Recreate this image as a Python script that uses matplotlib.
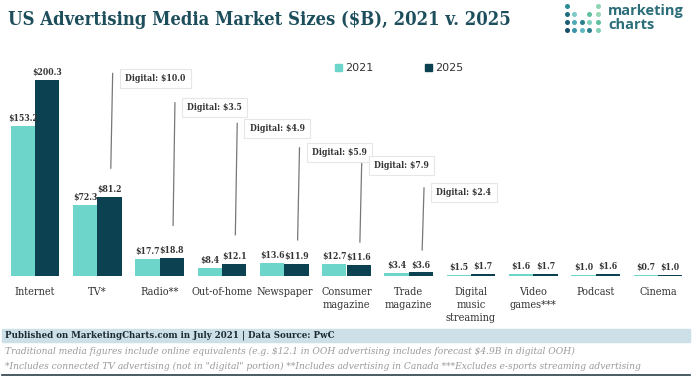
import numpy as np
import matplotlib.pyplot as plt
from matplotlib.patches import Rectangle

categories = ['Internet', 'TV*', 'Radio**', 'Out-of-home', 'Newspaper',
              'Consumer\nmagazine', 'Trade\nmagazine', 'Digital\nmusic\nstreaming',
              'Video\ngames***', 'Podcast', 'Cinema']
v2021 = [153.2, 72.3, 17.7, 8.4, 13.6, 12.7, 3.4, 1.5, 1.6, 1.0, 0.7]
v2025 = [200.3, 81.2, 18.8, 12.1, 11.9, 11.6, 3.6, 1.7, 1.7, 1.6, 1.0]

# digital portion callouts (category index, value)
digital_idx = [1, 2, 3, 4, 5, 6]
digital_val = [10.0, 3.5, 4.9, 5.9, 7.9, 2.4]
# callout line top / gap above bar (data units), layout only
callout_top = [207, 177, 156, 131, 118, 90]
callout_gap = [29, 33, 30, 25, 23, 23]

c2021 = '#6dd5c9'
c2025 = '#0b4150'
teal = '#1d4e5c'
serif = dict(family='DejaVu Serif', fontstretch='condensed')

fig = plt.figure(figsize=(6.96, 3.79), dpi=100)
ax = fig.add_axes([4/696, 1-276/379, 685/696, 0.568])

x = np.arange(len(categories))
w = 0.39
ax.bar(x - w/2, v2021, w, color=c2021)
ax.bar(x + w/2, v2025, w, color=c2025)

lab = dict(fontsize=6.2, fontweight='bold', color='#333333', **serif)
for i in range(len(categories)):
    ax.text(x[i] - w/2, v2021[i] + 3, '\\$%.1f' % v2021[i], ha='center', va='bottom', **lab)
    ax.text(x[i] + w/2, v2025[i] + 3, '\\$%.1f' % v2025[i], ha='center', va='bottom', **lab)

for k, i in enumerate(digital_idx):
    lx = x[i] + w/2 + 0.05
    y0 = v2025[i] + callout_gap[k]
    y1 = callout_top[k]
    ax.plot([lx - 0.03, lx], [y0, y1], color='#777777', lw=0.9)
    ax.text(lx + 0.2, y1 - 5, 'Digital: \\$%.1f' % digital_val[k], ha='left', va='center',
            bbox=dict(boxstyle='square,pad=0.6', fc='white', ec='#e6e6e6', lw=0.8), **lab)

ax.set_xlim(-0.5, len(categories) - 0.5)
ax.set_ylim(0, 220)
ax.set_xticks(x)
ax.set_xticklabels(categories, fontsize=7.8, color='#333333', linespacing=1.35, **serif)
ax.tick_params(axis='x', length=0, pad=8)
ax.set_yticks([])
for s in ax.spines.values():
    s.set_visible(False)

# overlay in pixel units for title, legend, logo and footer
ov = fig.add_axes([0, 0, 1, 1], facecolor='none')
ov.set_xlim(0, 696)
ov.set_ylim(379, 0)
ov.axis('off')

ov.text(8, 20, 'US Advertising Media Market Sizes (\\$B), 2021 v. 2025',
        fontsize=13.2, fontweight='bold', color=teal, va='center', ha='left', **serif)

# legend
ov.add_patch(Rectangle((335, 64), 7, 7, color=c2021))
ov.text(345, 68, '2021', fontsize=8, color='#333333', va='center')
ov.add_patch(Rectangle((425, 64), 7, 7, color=c2025))
ov.text(435, 68, '2025', fontsize=8, color='#333333', va='center')

# logo
dot_cols = [567, 574, 582, 589, 598]
dot_rows = [6, 14, 22, 30]
dot_map = [[1, 0, 0, 0, 1],
           [1, 1, 0, 1, 1],
           [1, 1, 1, 1, 1],
           [1, 1, 1, 1, 1]]
dot_clr = [['#2a8c96', '', '', '', '#8fd4b0'],
           ['#1f6f7f', '#7fc9c9', '', '#5fbf9f', '#9ad8b8'],
           ['#1b5e72', '#4fa9b5', '#2a7f8c', '#7fcfbf', '#5fbf9f'],
           ['#174f66', '#3a94a5', '#5fb9c0', '#2b7f8f', '#7fd0b0']]
for r, yy in enumerate(dot_rows):
    for c, xx in enumerate(dot_cols):
        if dot_map[r][c]:
            ov.scatter(xx, yy, s=13, color=dot_clr[r][c], linewidths=0)
ov.text(608, 11, 'marketing', fontsize=10.5, fontweight='bold', color='#2b6d78',
        va='center', ha='left', family='Open Sans')
ov.text(608, 25, 'charts', fontsize=10.5, fontweight='bold', color='#2b6d78',
        va='center', ha='left', family='Open Sans')

# footer
ov.add_patch(Rectangle((2, 329), 688, 13, color='#cddfe7'))
ov.text(5, 335.5, 'Published on MarketingCharts.com in July 2021 | Data Source: PwC',
        fontsize=6.9, fontweight='bold', color='#1c2b33', va='center', **serif)
ov.text(5, 351, 'Traditional media figures include online equivalents (e.g. \\$12.1 in OOH '
        'advertising includes forecast \\$4.9B in digital OOH)', fontsize=7.3, style='italic',
        color='#9a9a9a', va='center', **serif)
ov.text(5, 366, '*Includes connected TV advertising (not in "digital" portion) '
        '**Includes advertising in Canada ***Excludes e-sports streaming advertising',
        fontsize=7.3, style='italic', color='#9a9a9a', va='center', **serif)
ov.plot([2, 690], [375, 375], color='#2b3f48', lw=1.2)

fig.savefig('out.png', dpi=100)
